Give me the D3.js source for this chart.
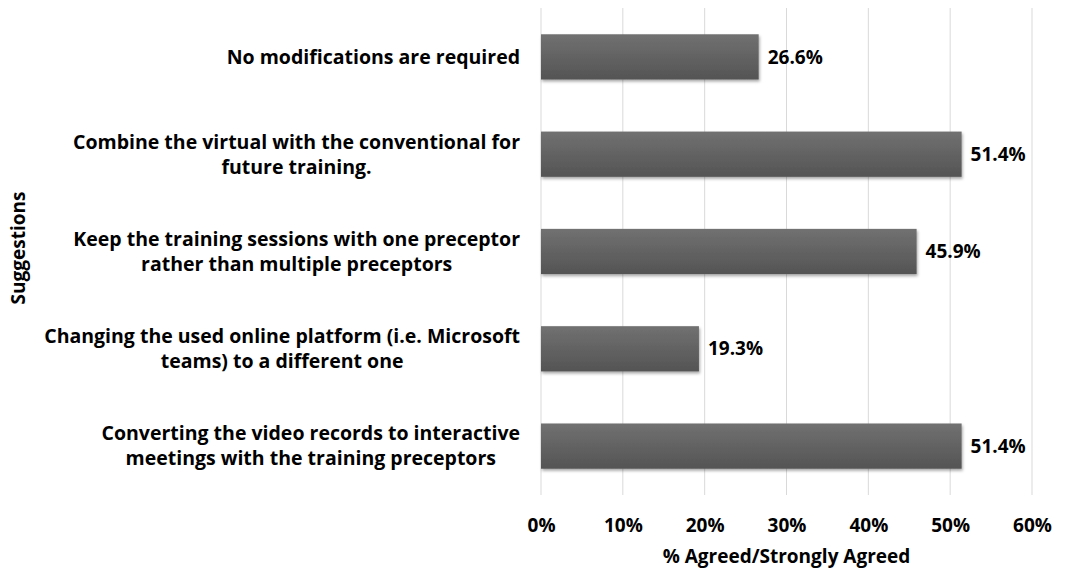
<!DOCTYPE html>
<html>
<head>
<meta charset="utf-8">
<script src="https://cdn.jsdelivr.net/npm/d3@7"></script>
<style>
  body { margin: 0; background: #fff; }
  text { font-family: "Open Sans", Lato, sans-serif; font-weight: bold; fill: #000; }
</style>
</head>
<body>
<svg id="chart" width="1080" height="568"></svg>
<script>
// categories, top to bottom, each label split in lines
const categories = [
    ["No modifications are required"],
    ["Combine the virtual with the conventional for", "future training."],
    ["Keep the training sessions with one preceptor", "rather than multiple preceptors"],
    ["Changing the used online platform (i.e. Microsoft", "teams) to a different one"],
    ["Converting the video records to interactive", "meetings with the training preceptors"]
];
const values = [26.6, 51.4, 45.9, 19.3, 51.4];
const xTicks = [0, 10, 20, 30, 40, 50, 60];

const svg = d3.select("#chart");
const margin = { top: 8, left: 541, right: 48, bottom: 73 };
const width = 1080 - margin.left - margin.right;
const height = 568 - margin.top - margin.bottom;
const fs = "19px";
const catFs = "19.5px";

const g = svg.append("g").attr("transform", `translate(${margin.left},${margin.top})`);

const x = d3.scaleLinear().domain([0, 60]).range([0, width]);
const y = d3.scaleBand().domain(d3.range(categories.length)).range([0, height]).paddingInner(0.535).paddingOuter(0.27);

// gradient + shadow for bars
const defs = svg.append("defs");
const grad = defs.append("linearGradient").attr("id", "barGrad")
    .attr("x1", 0).attr("y1", 0).attr("x2", 0).attr("y2", 1);
grad.append("stop").attr("offset", "0%").attr("stop-color", "#717171");
grad.append("stop").attr("offset", "100%").attr("stop-color", "#545454");
const shadow = defs.append("filter").attr("id", "shadow")
    .attr("x", "-5%").attr("y", "-20%").attr("width", "110%").attr("height", "150%");
shadow.append("feDropShadow").attr("dx", 1).attr("dy", 2).attr("stdDeviation", 1.5)
    .attr("flood-color", "#000").attr("flood-opacity", 0.35);

// gridlines
g.append("g")
    .selectAll("line")
    .data(xTicks)
    .enter()
    .append("line")
    .attr("x1", d => x(d)).attr("x2", d => x(d))
    .attr("y1", 0).attr("y2", height)
    .attr("stroke", "#d9d9d9")
    .attr("stroke-width", 1);

// bars
g.selectAll(".bar")
    .data(values)
    .enter()
    .append("rect")
    .attr("class", "bar")
    .attr("x", x(0))
    .attr("y", (d, i) => y(i))
    .attr("width", d => x(d) - x(0))
    .attr("height", y.bandwidth())
    .attr("fill", "url(#barGrad)")
    .attr("filter", "url(#shadow)");

// value labels
g.selectAll(".val")
    .data(values)
    .enter()
    .append("text")
    .attr("class", "val")
    .attr("x", d => x(d) + 9)
    .attr("y", (d, i) => y(i) + y.bandwidth() / 2)
    .attr("dy", "0.35em")
    .style("font-size", fs)
    .text(d => d.toFixed(1) + "%");

// category labels: block right-aligned, lines centred inside the block
const lineH = 25;
const labelRight = -21;
const labels = g.selectAll(".cat")
    .data(categories)
    .enter()
    .append("text")
    .attr("class", "cat")
    .attr("text-anchor", "middle")
    .attr("y", (d, i) => y(i) + y.bandwidth() / 2 - (d.length - 1) * lineH / 2)
    .style("font-size", catFs);
labels.selectAll("tspan")
    .data(d => d)
    .enter()
    .append("tspan")
    .attr("dy", (d, i) => i === 0 ? "0.35em" : lineH)
    .text(d => d);
labels.each(function() {
    const spans = d3.select(this).selectAll("tspan");
    let maxW = 0;
    spans.each(function() { maxW = Math.max(maxW, this.getComputedTextLength()); });
    spans.attr("x", labelRight - maxW / 2);
});

// x axis
const xAxis = g.append("g")
    .attr("transform", `translate(0,${height})`)
    .call(d3.axisBottom(x).tickValues(xTicks).tickFormat(d => d + "%").tickSize(0).tickPadding(24));
xAxis.select(".domain").remove();
xAxis.selectAll("text").style("font-size", fs).attr("font-family", null);

// axis titles
svg.append("text")
    .attr("x", margin.left + x(30))
    .attr("y", 563)
    .attr("text-anchor", "middle")
    .style("font-size", fs)
    .text("% Agreed/Strongly Agreed");

svg.append("text")
    .attr("transform", "translate(25,248) rotate(-90)")
    .attr("text-anchor", "middle")
    .style("font-size", fs)
    .text("Suggestions");
</script>
</body>
</html>
